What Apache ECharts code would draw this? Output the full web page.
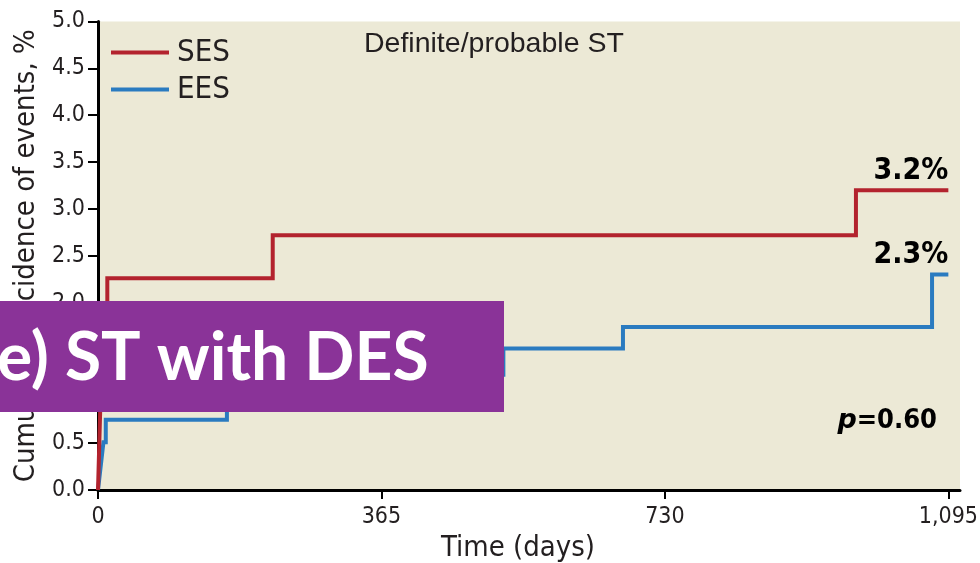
<!DOCTYPE html>
<html>
<head>
<meta charset="utf-8">
<script src="https://cdn.jsdelivr.net/npm/echarts@6/dist/echarts.min.js"></script>
<style>
  html, body { margin: 0; padding: 0; background: #ffffff; }
  #chart { width: 980px; height: 563px; }
</style>
</head>
<body>
<div id="chart"></div>
<script>
// Kaplan-Meier step curves: days since procedure vs cumulative incidence (%)
const sesDays = [0, 3, 12, 12, 225, 225, 976, 976, 1095];
const sesPct  = [0, 0.9, 2.0, 2.26, 2.26, 2.72, 2.72, 3.2, 3.2];

const eesDays = [0, 7, 10, 10, 166, 166, 522, 522, 676, 676, 1074, 1074, 1095];
const eesPct  = [0, 0.51, 0.51, 0.75, 0.75, 1.23, 1.23, 1.51, 1.51, 1.74, 1.74, 2.3, 2.3];

const xTickDays = [0, 365, 730, 1095];
const seriesNames = ['SES', 'EES'];
const pValueText = '0.60';

const NARROW = '"Liberation Sans Narrow", "Arial Narrow", "DejaVu Sans Condensed", sans-serif';
const TEXT = '#231f20';
const RED = '#b3232e';
const BLUE = '#2a7bc0';

const pairs = (xs, ys) => xs.map((x, i) => [x, ys[i]]);

function endMark(days, pct) {
  const last = days.length - 1;
  return {
    symbol: 'circle',
    symbolSize: 0,
    silent: true,
    data: [{ coord: [days[last], pct[last]], value: pct[last] }],
    label: {
      show: true,
      position: 'top',
      align: 'right',
      verticalAlign: 'bottom',
      distance: 4,
      formatter: p => p.value.toFixed(1) + '%',
      fontFamily: NARROW,
      fontWeight: 'bold',
      fontSize: 30,
      color: '#000'
    }
  };
}

const chart = echarts.init(document.getElementById('chart'), null, { renderer: 'canvas' });

chart.setOption({
  animation: false,
  backgroundColor: '#ffffff',
  grid: {
    left: 98, right: 20, top: 21.5, bottom: 73,
    outerBoundsMode: 'none',
    containLabel: false,
    show: true, backgroundColor: '#ece9d6', borderWidth: 0
  },
  title: {
    text: 'Definite/probable ST',
    left: 364, top: 30,
    padding: 0,
    textStyle: {
      fontFamily: '"Liberation Sans", Arial, sans-serif',
      fontWeight: 'normal', fontSize: 28.5, color: TEXT
    }
  },
  legend: {
    data: seriesNames,
    orient: 'vertical',
    left: 111, top: 37,
    padding: 0,
    itemWidth: 58, itemHeight: 4, itemGap: 6,
    icon: 'rect',
    textStyle: { fontFamily: NARROW, fontSize: 31, color: TEXT, padding: [0, 0, 0, 3] }
  },
  xAxis: {
    type: 'value',
    min: 0, max: 1110,
    name: 'Time (days)',
    nameLocation: 'middle',
    nameGap: 40,
    nameTextStyle: { fontFamily: NARROW, fontSize: 29, color: TEXT, padding: [0, 22, 0, 0] },
    splitLine: { show: false },
    axisLine: { show: true, onZero: false, lineStyle: { color: '#000', width: 3 } },
    axisTick: { show: true, customValues: xTickDays, length: 9, lineStyle: { color: '#000', width: 2 } },
    axisLabel: {
      customValues: xTickDays,
      margin: 16,
      fontFamily: NARROW, fontSize: 23, color: TEXT,
      formatter: v => v.toLocaleString('en-US')
    }
  },
  yAxis: {
    type: 'value',
    min: 0, max: 5, interval: 0.5,
    name: 'Cumulative incidence of events, %',
    nameLocation: 'middle',
    nameGap: 50,
    nameTextStyle: { fontFamily: NARROW, fontSize: 29, color: TEXT },
    splitLine: { show: false },
    axisLine: { show: true, lineStyle: { color: '#000', width: 3 } },
    axisTick: { show: true, length: 10, lineStyle: { color: '#000', width: 2 } },
    axisLabel: {
      margin: 13,
      fontFamily: NARROW, fontSize: 23, color: TEXT,
      formatter: v => v.toFixed(1)
    }
  },
  series: [
    {
      name: seriesNames[1],
      type: 'line',
      data: pairs(eesDays, eesPct),
      showSymbol: false,
      lineStyle: { color: BLUE, width: 4, join: 'miter' },
      itemStyle: { color: BLUE },
      z: 3,
      markPoint: endMark(eesDays, eesPct)
    },
    {
      name: seriesNames[0],
      type: 'line',
      data: pairs(sesDays, sesPct),
      showSymbol: false,
      lineStyle: { color: RED, width: 4, join: 'miter' },
      itemStyle: { color: RED },
      z: 4,
      markPoint: endMark(sesDays, sesPct)
    }
  ],
  graphic: [
    {
      type: 'text',
      x: 937, y: 434,
      z: 10,
      style: {
        text: '{i|p}{b|=' + pValueText + '}',
        align: 'right',
        verticalAlign: 'bottom',
        rich: {
          i: { fontFamily: '"DejaVu Sans", sans-serif', fontStyle: 'italic', fontWeight: 'bold', fontSize: 27, fill: '#000' },
          b: { fontFamily: '"DejaVu Sans Condensed", "DejaVu Sans", sans-serif', fontWeight: 'bold', fontSize: 27, fill: '#000' }
        }
      }
    },
    {
      type: 'rect',
      x: 0, y: 301,
      z: 100,
      shape: { x: 0, y: 0, width: 504, height: 111 },
      style: { fill: '#8a3398' }
    },
    {
      type: 'text',
      x: -3, y: 359,
      z: 101,
      style: {
        text: 'e) ST with DES',
        fontFamily: 'Lato, "Open Sans", sans-serif',
        fontWeight: 'bold',
        fontSize: 66,
        fill: '#ffffff',
        verticalAlign: 'middle',
        align: 'left'
      }
    }
  ]
});
</script>
</body>
</html>
